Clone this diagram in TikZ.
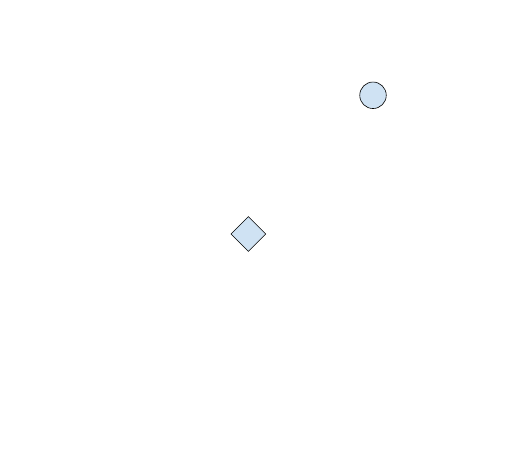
\documentclass[tikz,border=0pt]{standalone}
\usepackage{tikz}
\usetikzlibrary{shapes.geometric}
\definecolor{paleblue}{RGB}{207,226,243}

\begin{document}
\begin{tikzpicture}[x=1pt,y=1pt]
					\useasboundingbox (0,0) rectangle (526,470);
					\coordinate (P) at (373,374.7);
					\coordinate (Q) at (248.3,236);
					
					\node[circle,draw,fill=paleblue,minimum size=26.5pt,inner sep=0pt,line width=0.6pt] (circ) at (P) {};
					\node[diamond,draw,fill=paleblue,minimum size=35pt,inner sep=0pt,line width=0.6pt] (diam) at (Q) {};
				\end{tikzpicture}
\end{document}
